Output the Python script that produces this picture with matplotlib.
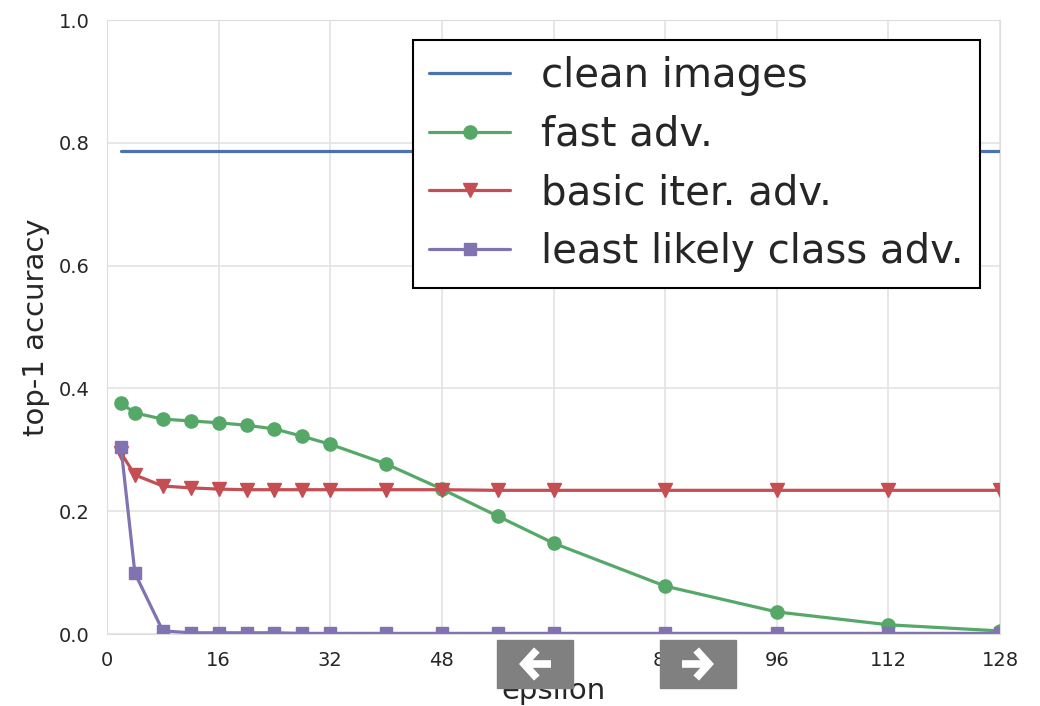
import matplotlib
matplotlib.use("Agg")
import matplotlib.pyplot as plt
from matplotlib.patches import Rectangle, FancyArrowPatch
import seaborn as sns

sns.set_style("whitegrid")
plt.rcParams['font.family'] = ['DejaVu Sans']

epsilon = [2, 4, 8, 12, 16, 20, 24, 28, 32, 40, 48, 56, 64, 80, 96, 112, 128]
clean = [0.787] * len(epsilon)
fast = [0.376, 0.360, 0.350, 0.347, 0.344, 0.340, 0.334, 0.322, 0.309,
        0.277, 0.236, 0.192, 0.148, 0.078, 0.036, 0.015, 0.005]
basic_iter = [0.295, 0.259, 0.241, 0.238, 0.236, 0.235, 0.235, 0.235, 0.235,
              0.235, 0.235, 0.234, 0.234, 0.234, 0.234, 0.234, 0.234]
least_likely = [0.305, 0.099, 0.005, 0.002, 0.002, 0.002, 0.002, 0.001, 0.001,
                0.001, 0.001, 0.001, 0.001, 0.001, 0.001, 0.001, 0.001]
xticks = [0, 16, 32, 48, 64, 80, 96, 112, 128]
yticks = [0.0, 0.2, 0.4, 0.6, 0.8, 1.0]

fig = plt.figure(figsize=(10.4, 7.06), dpi=100)
ax = fig.add_axes([107/1040, 1 - 634/706, (1000-107)/1040, (634-20)/706])

c_blue, c_green, c_red, c_purple = "#4C72B0", "#55A868", "#C44E52", "#8172B2"
ax.plot(epsilon, clean, color=c_blue, lw=2.3, label="clean images")
ax.plot(epsilon, fast, color=c_green, lw=2.3, marker='o', ms=9.5, label="fast adv.")
ax.plot(epsilon, basic_iter, color=c_red, lw=2.3, marker='v', ms=9.5, label="basic iter. adv.")
ax.plot(epsilon, least_likely, color=c_purple, lw=2.3, marker='s', ms=9,
        label="least likely class adv.")

ax.set_xlim(0, 128)
ax.set_ylim(0, 1.0)
ax.set_xticks(xticks)
ax.set_yticks(yticks)
ax.set_yticklabels([f"{v:.1f}" for v in yticks])
ax.tick_params(labelsize=14, colors="#262626", pad=9)
ax.set_xlabel("epsilon", fontsize=21, color="#262626", labelpad=5)
ax.set_ylabel("top-1 accuracy", fontsize=21, color="#262626", labelpad=6)
for s in ax.spines.values():
    s.set_color("#dddddd")
ax.grid(color="#e3e3e3", lw=1.2)

leg = ax.legend(loc="upper right", bbox_to_anchor=(0.9776, 0.967), borderaxespad=0,
                fontsize=29, frameon=True, fancybox=False, framealpha=1,
                handlelength=2.0, handletextpad=0.78, labelspacing=0.46,
                borderpad=0.4)
leg.get_frame().set_edgecolor("black")
leg.get_frame().set_linewidth(1.5)
for t in leg.get_texts():
    t.set_color("#262626")

# navigation buttons overlay
for x0, direction in [(497, -1), (660, 1)]:
    fig.patches.append(Rectangle((x0/1040, 1 - 688/706), 76/1040, 48/706,
                                 transform=fig.transFigure, color="#808080", zorder=10))
    cx, cy = (x0 + 38)/1040, 1 - 664/706
    half = 16/1040
    arr = FancyArrowPatch((cx - direction*half, cy), (cx + direction*half, cy),
                          transform=fig.transFigure,
                          arrowstyle="->,head_length=0.38,head_width=0.42",
                          mutation_scale=24, color="white", lw=5.5,
                          shrinkA=0, shrinkB=0,
                          capstyle="butt", joinstyle="miter", zorder=11)
    fig.patches.append(arr)

fig.savefig("out.png", dpi=100)
